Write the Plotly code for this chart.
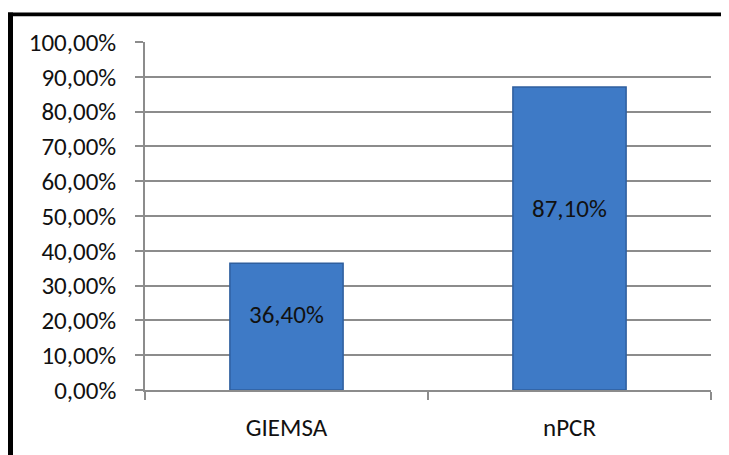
import plotly.graph_objects as go

categories = ["GIEMSA", "nPCR"]
values = [0.364, 0.871]
value_labels = ["36,40%", "87,10%"]
y_tick_values = [i / 10 for i in range(11)]
y_tick_labels = ["0,00%", "10,00%", "20,00%", "30,00%", "40,00%", "50,00%",
                 "60,00%", "70,00%", "80,00%", "90,00%", "100,00%"]

OFF = 8  # page body margin
W, H = 729 - OFF, 455 - OFF
L, R, T, B = 145 - OFF, 18, 42 - OFF, 60
PW, PH = W - L - R, H - T - B
FONT = "Carlito, Calibri, Lato, sans-serif"
GRID = "#8c8c8c"
FS = 25


def px_x(px):
    return (px - OFF - L) / PW


def px_y(py):
    return (H - B - (py - OFF)) / PH


fig = go.Figure()
fig.add_trace(go.Bar(
    x=categories, y=values,
    marker=dict(color="#3e7ac6", line=dict(color="#2f5f9e", width=1.5)),
    hoverinfo="skip",
))

for c, v, t in zip(categories, values, value_labels):
    fig.add_annotation(x=c, y=v * 0.6, text=t, showarrow=False,
                       font=dict(family=FONT, size=FS, color="#111111"))

# outer frame (left and top sides visible)
fig.add_shape(type="rect", xref="paper", yref="paper",
              x0=px_x(8), x1=px_x(13), y0=px_y(470), y1=px_y(12),
              fillcolor="black", line=dict(width=0), layer="above")
fig.add_shape(type="rect", xref="paper", yref="paper",
              x0=px_x(8), x1=px_x(760), y0=px_y(16), y1=px_y(12),
              fillcolor="black", line=dict(width=0), layer="above")

fig.update_layout(
    width=W, height=H,
    margin=dict(l=L, r=R, t=T, b=B),
    paper_bgcolor="white", plot_bgcolor="white",
    showlegend=False, bargap=0.6,
    separators=",.",
    font=dict(family=FONT, size=FS, color="#111111"),
)
fig.update_yaxes(
    range=[0, 1], tickvals=y_tick_values, ticktext=y_tick_labels,
    showgrid=True, gridcolor=GRID, gridwidth=1.5,
    showline=True, linecolor=GRID, linewidth=1.5,
    ticks="outside", ticklen=8, tickcolor=GRID, tickwidth=1.5,
    ticklabelstandoff=14, zeroline=False,
    tickfont=dict(family=FONT, size=FS, color="#111111"),
)
fig.update_xaxes(
    showline=True, linecolor=GRID, linewidth=1.5,
    ticks="outside", ticklen=8, tickcolor=GRID, tickwidth=1.5,
    tickson="boundaries", ticklabelstandoff=14,
    tickfont=dict(family=FONT, size=FS, color="#111111"),
)

fig.write_html("out.html")
